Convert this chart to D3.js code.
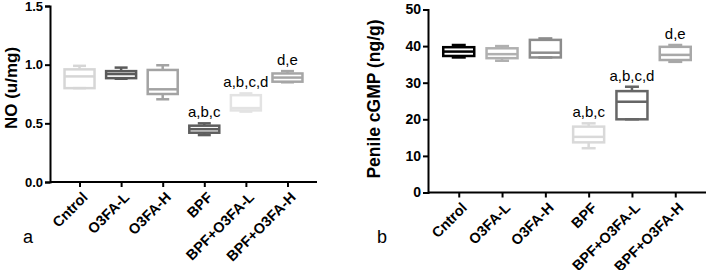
<!DOCTYPE html>
<html>
<head>
<meta charset="utf-8">
<script src="https://cdn.jsdelivr.net/npm/d3@7"></script>
<style>
  body { margin: 0; background: #fff; }
  svg { display: block; font-family: "Liberation Sans", Arial, sans-serif; }
</style>
</head>
<body>
<svg id="chart" width="706" height="270"></svg>
<script>
var categories = ["Cntrol", "O3FA-L", "O3FA-H", "BPF", "BPF+O3FA-L", "BPF+O3FA-H"];

// box stats per group: [min, q1, median, q3, max]
var noStats = [
  [0.80, 0.80, 0.90, 0.96, 0.99],
  [0.88, 0.885, 0.92, 0.945, 0.975],
  [0.705, 0.75, 0.79, 0.955, 0.995],
  [0.40, 0.42, 0.45, 0.48, 0.50],
  [0.60, 0.61, 0.63, 0.74, 0.755],
  [0.85, 0.855, 0.89, 0.925, 0.945]
];
var cgmpStats = [
  [36.9, 37.3, 38.5, 39.7, 40.3],
  [36.0, 36.7, 37.8, 39.4, 40.0],
  [36.9, 36.9, 38.2, 41.7, 42.1],
  [12.1, 13.7, 15.2, 18.0, 18.9],
  [20.0, 20.0, 24.8, 27.7, 28.9],
  [35.7, 36.2, 37.6, 39.8, 40.3]
];
var noLetters = ["", "", "", "a,b,c", "a,b,c,d", "d,e"];
var cgmpLetters = ["", "", "", "a,b,c", "a,b,c,d", "d,e"];
var noTicks = [0, 0.5, 1.0, 1.5];
var cgmpTicks = [0, 10, 20, 30, 40, 50];

var noColors = ["#d6d6d6", "#5a5a5a", "#a3a3a3", "#5e5e5e", "#e3e3e3", "#a6a6a6"];
var cgmpColors = ["#000000", "#b0b0b0", "#8c8c8c", "#d9d9d9", "#666666", "#a8a8a8"];

var svg = d3.select("#chart");

function drawPanel(p) {
  var g = svg.append("g");
  var x = d3.scalePoint().domain(categories).range([p.x0, p.x1]).padding(0.71);
  var y = d3.scaleLinear().domain(p.domain).range([p.y0, p.y1]);

  var yAxis = g.append("g")
    .attr("transform", "translate(" + p.x0 + ",0)")
    .call(d3.axisLeft(y).tickValues(p.ticks).tickSize(5).tickPadding(2).tickFormat(p.fmt));
  yAxis.select(".domain").attr("stroke-width", 2);
  yAxis.selectAll(".tick line").attr("stroke-width", 2);
  yAxis.selectAll("text").attr("font-size", p.tickFont).attr("font-weight", "bold").attr("fill", "#000");

  var xAxis = g.append("g")
    .attr("transform", "translate(0," + p.y0 + ")")
    .call(d3.axisBottom(x).tickSize(5).tickFormat(""));
  xAxis.select(".domain").attr("d", "M" + p.x0 + ",0H" + p.x1).attr("stroke-width", 2);
  xAxis.selectAll(".tick line").attr("stroke-width", 2);

  g.selectAll(".cat").data(categories).enter().append("text")
    .attr("class", "cat")
    .attr("transform", function(d) { return "translate(" + (x(d) + 2) + "," + (p.y0 + 9) + ") rotate(-45)"; })
    .attr("text-anchor", "end")
    .attr("dy", "0.7em")
    .attr("font-size", p.catFont)
    .attr("font-weight", "bold")
    .text(function(d) { return d; });

  var bw = p.boxW, cw = p.capW;
  var boxes = g.selectAll(".box").data(p.stats).enter().append("g")
    .attr("class", "box")
    .attr("stroke", function(d, i) { return p.colors[i]; })
    .attr("stroke-width", 2.5)
    .attr("fill", "none");
  boxes.each(function(d, i) {
    var cx = x(categories[i]);
    var b = d3.select(this);
    b.append("line").attr("x1", cx).attr("x2", cx).attr("y1", y(d[3])).attr("y2", y(d[4]));
    b.append("line").attr("x1", cx).attr("x2", cx).attr("y1", y(d[1])).attr("y2", y(d[0]));
    b.append("line").attr("x1", cx - cw / 2).attr("x2", cx + cw / 2).attr("y1", y(d[4])).attr("y2", y(d[4]));
    b.append("line").attr("x1", cx - cw / 2).attr("x2", cx + cw / 2).attr("y1", y(d[0])).attr("y2", y(d[0]));
    b.append("rect").attr("x", cx - bw / 2).attr("width", bw)
      .attr("y", y(d[3])).attr("height", y(d[1]) - y(d[3]));
    b.append("line").attr("x1", cx - bw / 2).attr("x2", cx + bw / 2).attr("y1", y(d[2])).attr("y2", y(d[2]));
  });

  g.selectAll(".sig").data(p.letters).enter().append("text")
    .attr("class", "sig")
    .attr("x", function(d, i) { return x(categories[i]); })
    .attr("y", function(d, i) { return y(p.stats[i][4]) - 6; })
    .attr("text-anchor", "middle")
    .attr("font-size", p.sigFont)
    .text(function(d) { return d; });

  g.append("text")
    .attr("transform", "translate(" + p.titleX + "," + p.titleY + ") rotate(-90)")
    .attr("text-anchor", "middle")
    .attr("font-size", p.titleFont)
    .attr("font-weight", "bold")
    .text(p.title);

  g.append("text")
    .attr("x", p.tagX).attr("y", 243)
    .attr("font-size", 18)
    .text(p.tag);
}

drawPanel({
  x0: 50, x1: 317, y0: 182, y1: 6, domain: [0, 1.5],
  ticks: noTicks, fmt: d3.format(".1f"), stats: noStats, colors: noColors, letters: noLetters,
  boxW: 30, capW: 13, tickFont: 13, catFont: 14.5, sigFont: 15, titleFont: 17,
  title: "NO (u/mg)", titleX: 17, titleY: 88, tag: "a", tagX: 23
});
drawPanel({
  x0: 428, x1: 706, y0: 192.5, y1: 9.5, domain: [0, 50],
  ticks: cgmpTicks, fmt: d3.format("d"), stats: cgmpStats, colors: cgmpColors, letters: cgmpLetters,
  boxW: 31, capW: 14, tickFont: 14, catFont: 14.5, sigFont: 15, titleFont: 17.5,
  title: "Penile cGMP (ng/g)", titleX: 380, titleY: 99, tag: "b", tagX: 377
});
</script>
</body>
</html>
